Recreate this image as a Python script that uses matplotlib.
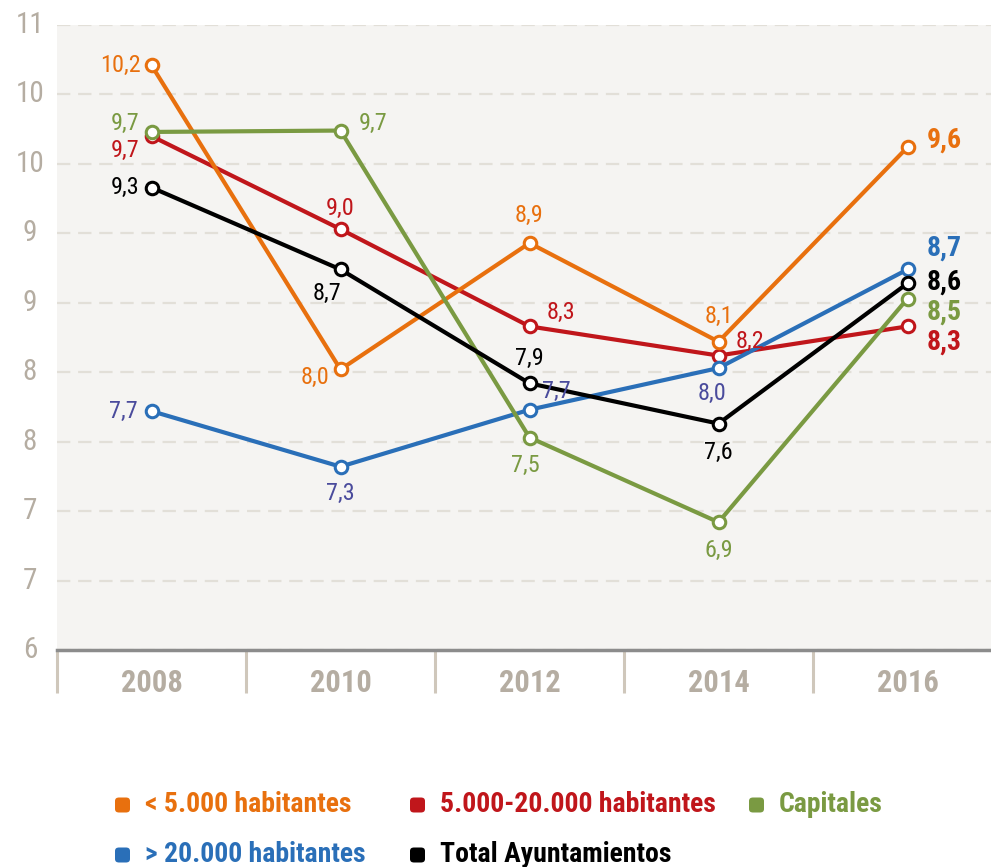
import matplotlib
matplotlib.use("Agg")
import matplotlib.pyplot as plt
from matplotlib import font_manager
from matplotlib.patches import FancyBboxPatch
from matplotlib.transforms import blended_transform_factory

# ---------------- data ----------------
years = ["2008", "2010", "2012", "2014", "2016"]
y_ticks = [6.0, 6.5, 7.0, 7.5, 8.0, 8.5, 9.0, 9.5, 10.0, 10.5]
y_tick_labels = ["6", "7", "7", "8", "8", "9", "9", "10", "10", "11"]

series_names = ["< 5.000 habitantes", "5.000-20.000 habitantes", "Capitales",
                "> 20.000 habitantes", "Total Ayuntamientos"]

pequenos = [10.21, 8.02, 8.93, 8.22, 9.62]
pequenos_lbl = ["10,2", "8,0", "8,9", "8,1", "9,6"]
medianos = [9.70, 9.03, 8.33, 8.12, 8.33]
medianos_lbl = ["9,7", "9,0", "8,3", "8,2", "8,3"]
capitales = [9.73, 9.74, 7.53, 6.92, 8.53]
capitales_lbl = ["9,7", "9,7", "7,5", "6,9", "8,5"]
grandes = [7.72, 7.32, 7.73, 8.03, 8.74]
grandes_lbl = ["7,7", "7,3", "7,7", "8,0", "8,7"]
total = [9.33, 8.74, 7.92, 7.63, 8.64]
total_lbl = ["9,3", "8,7", "7,9", "7,6", "8,6"]

# ---------------- style ----------------
avail = {f.name for f in font_manager.fontManager.ttflist}
FONT = "DejaVu Sans"
for cand in ["Liberation Sans Narrow", "Roboto Condensed", "DejaVu Sans Condensed",
             "Open Sans Condensed", "Noto Sans", "Roboto"]:
    if cand in avail:
        FONT = cand
        break
plt.rcParams["font.family"] = [FONT, "DejaVu Sans"]

C_OR = "#e8700e"
C_RD = "#c0161b"
C_GR = "#7a9a42"
C_BL = "#2a6fb8"
C_BK = "#000000"
C_BL_TXT = "#4a4b9c"
TICK_C = "#b5ada2"

W, H = 991, 867
fig = plt.figure(figsize=(W / 100, H / 100), dpi=100)
ax = fig.add_axes([57 / W, 1 - 650 / H, 945 / W, 625 / H])
ax.set_facecolor("#f5f4f2")
ax.set_xlim(-0.5, 4.5)
ax.set_ylim(6, 10.5)

for yv in y_ticks:
    ax.axhline(yv, color="#e2dfd8", lw=1.6, ls=(0, (6, 3.5)), zorder=1)

for s in ["top", "right", "left"]:
    ax.spines[s].set_visible(False)
ax.spines["bottom"].set_color("#8c8c8c")
ax.spines["bottom"].set_linewidth(2.5)
ax.spines["bottom"].set_zorder(2)

ax.set_yticks([])
tr = blended_transform_factory(fig.transFigure, ax.transData)
for yv, lb in zip(y_ticks, y_tick_labels):
    fig.text(30 / W, yv, lb, transform=tr, ha="center", va="center",
             fontsize=21, color=TICK_C)

x = list(range(len(years)))
ax.set_xticks(x)
ax.set_xticklabels(years)
ax.tick_params(axis="x", length=0, pad=13, labelsize=22, labelcolor=TICK_C)
for t in ax.get_xticklabels():
    t.set_fontweight("bold")
ax.set_xticks([-0.5, 0.5, 1.5, 2.5, 3.5, 4.5], minor=True)
ax.tick_params(axis="x", which="minor", length=31, width=2.2, color="#cfc7bb", direction="out")

data = [
    (medianos, medianos_lbl, C_RD, C_RD),
    (grandes, grandes_lbl, C_BL, C_BL_TXT),
    (pequenos, pequenos_lbl, C_OR, C_OR),
    (capitales, capitales_lbl, C_GR, C_GR),
    (total, total_lbl, C_BK, C_BK),
]
for i, (vals, lbls, col, tcol) in enumerate(data):
    ax.plot(x, vals, color=col, lw=3.0, marker="o", ms=9, mfc="white", mec=col,
            mew=2.2, zorder=3 + i, solid_capstyle="round")


def lab(vals, lbls, tcol, offs, bold_last_col):
    for i, (v, l, (dx, dy, ha)) in enumerate(zip(vals, lbls, offs)):
        last = i == len(vals) - 1
        ax.annotate(l, (x[i], v), xytext=(dx, dy), textcoords="offset points",
                    ha=ha, va="center", fontsize=20 if last else 17.5,
                    fontweight="bold" if last else "normal",
                    color=bold_last_col if last else tcol, zorder=20)


lab(pequenos, pequenos_lbl, C_OR,
    [(-8, 0, "right"), (-8, -6, "right"), (0, 20, "center"), (0, 18, "center"), (14, 5, "left")], C_OR)
lab(medianos, medianos_lbl, C_RD,
    [(-9, -10, "right"), (0, 15, "center"), (12, 10, "left"), (12, 10, "left"), (14, -11, "left")], C_RD)
lab(capitales, capitales_lbl, C_GR,
    [(-9, 6, "right"), (13, 5, "left"), (-3, -20, "center"), (0, -20, "center"), (14, -10, "left")], C_GR)
lab(total, total_lbl, C_BK,
    [(-9, 0, "right"), (-10, -17, "center"), (0, 18, "center"), (0, -21, "center"), (14, 1, "left")], C_BK)
lab(grandes, grandes_lbl, C_BL_TXT,
    [(-10, 0, "right"), (0, -19, "center"), (9, 13, "left"), (-5, -18, "center"), (14, 15, "left")], C_BL)

# ---------------- legend ----------------
legend_items = [
    (series_names[0], C_OR, 115, 805),
    (series_names[1], C_RD, 410, 805),
    (series_names[2], C_GR, 749, 805),
    (series_names[3], C_BL, 115, 855),
    (series_names[4], C_BK, 410, 855),
]
for name, col, px, py in legend_items:
    sq = 15
    p = FancyBboxPatch((px / W, 1 - (py + sq / 2) / H), sq / W, sq / H,
                       boxstyle="round,pad=0,rounding_size=0.004",
                       transform=fig.transFigure, facecolor=col, edgecolor="none")
    fig.patches.append(p)
    fig.text((px + 30) / W, 1 - py / H, name, color=col, fontsize=20,
             fontweight="bold", va="center", ha="left")

fig.savefig("out.png", dpi=100)
